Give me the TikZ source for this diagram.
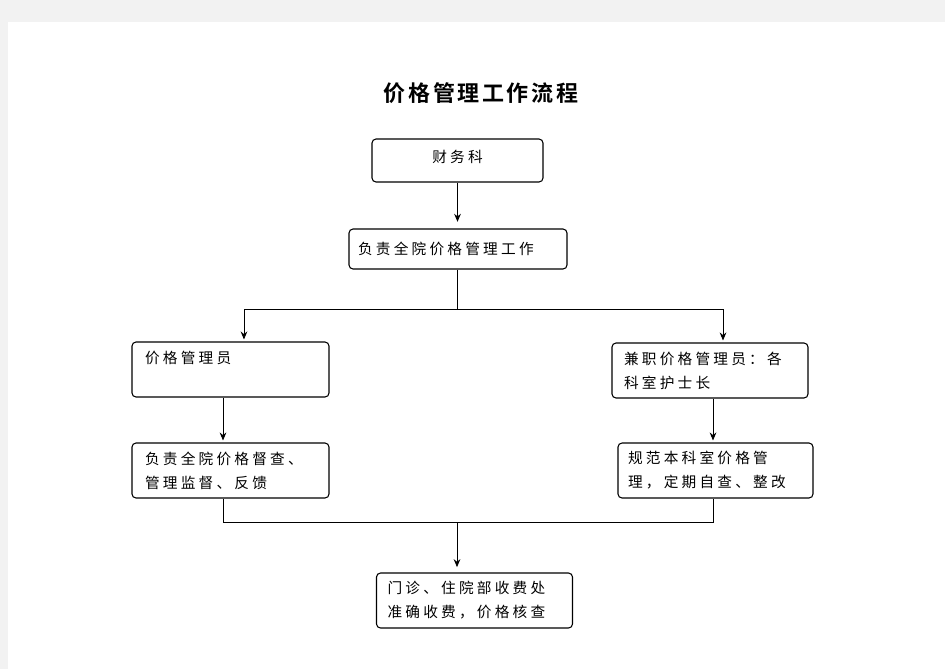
\documentclass[tikz,border=0pt]{standalone}
\usepackage{fontspec}
\usetikzlibrary{arrows.meta}
\newfontfamily\cjk[LetterSpace=22]{Noto Sans CJK SC}
\newfontfamily\cjktitle[LetterSpace=12]{Noto Sans CJK SC Bold}
\begin{document}
\begin{tikzpicture}[x=0.75pt,y=-0.75pt,line width=0.65pt,
    box/.style={draw,line width=0.8pt,rounded corners=3pt,inner ysep=0pt,align=left,
      font=\cjk\fontsize{11}{18}\selectfont},
    title/.style={font=\cjktitle\fontsize{16.5}{20}\selectfont},
    arr/.style={-{Stealth[length=6pt,width=5pt]},shorten >=1.5pt}]
  \fill[black!5] (0,0) rectangle (945,669);
  \fill[white] (8,22) rectangle (945,669);
  \useasboundingbox (0,0) rectangle (945,669);
  \node[title] (head) at (481,93) {价格管理工作流程}; % title
  \node[box,align=center,text depth=7pt,minimum width=128.25pt,minimum height=32.25pt] (cwk) at (457.5,160.5) {财务科}; % top box
  \node[box,inner xsep=6.75pt,text width=150pt,minimum height=30pt] (fzqy) at (458,249) {负责全院价格管理工作};
  \node[box,inner xsep=9.75pt,text width=128.25pt,minimum height=41.25pt] (jgy) at (230.5,369.5) {价格管理员\\\mbox{}}; % left column
  \node[box,inner xsep=9pt,text width=129pt,minimum height=41.25pt] (jzjgy) at (710,370.5) {兼职价格管理员：各\\科室护士长}; % right column
  \node[box,inner xsep=9.75pt,text width=128.25pt,minimum height=41.25pt] (dc) at (230.5,470.5) {负责全院价格督查、\\管理监督、反馈};
  \node[box,inner xsep=7.5pt,text width=131.25pt,minimum height=41.25pt] (gf) at (715.5,470.5) {规范本科室价格管\\理，定期自查、整改};
  \node[box,inner xsep=8.25pt,text width=130.5pt,minimum height=41.25pt] (sfc) at (474.5,600.5) {门诊、住院部收费处\\准确收费，价格核查}; % bottom box
  \coordinate (split) at (457,309);
  \coordinate (merge) at (457,522);
  \coordinate (lcol) at (223,0);
  \coordinate (rcol) at (713,0);
  \draw[arr,shorten >=5pt] (cwk.south) -- (cwk.south |- fzqy.north);
  \draw (fzqy.south -| split) -- (split);
  \draw[arr] (split) -| ([xshift=10.1pt]jgy.north); % branch left
  \draw[arr] (split) -| ([xshift=9.75pt]jzjgy.north); % branch right
  \draw[arr] (lcol |- jgy.south) -- (lcol |- dc.north);
  \draw[arr] (rcol |- jzjgy.south) -- (rcol |- gf.north);
  \draw (lcol |- dc.south) |- (merge) -| (rcol |- gf.south); % join
  \draw[arr,shorten >=4pt] (merge) -- (merge |- sfc.north);
\end{tikzpicture}
\end{document}
